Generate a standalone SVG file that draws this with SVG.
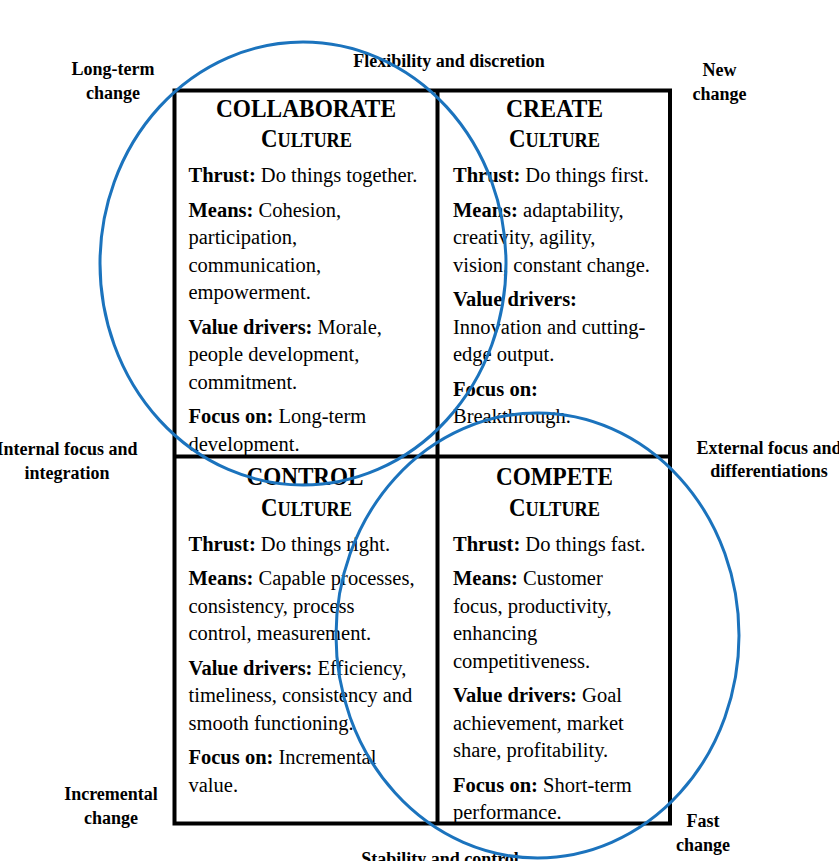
<svg xmlns="http://www.w3.org/2000/svg" width="839" height="861" viewBox="0 0 839 861">
<style>
.lbl{font-family:"Liberation Serif","Times New Roman",serif;font-size:18px;font-weight:bold;fill:#000;text-anchor:middle}
.ttl{font-family:"Liberation Serif","Times New Roman",serif;font-size:25px;font-weight:bold;fill:#000;text-anchor:middle}
.sc{font-size:20px}
.body{font-family:"Liberation Serif","Times New Roman",serif;font-size:20.5px;fill:#000}
.b{font-weight:bold}
.frame{fill:none;stroke:#000;stroke-width:4}
.ring{fill:none;stroke:#1b73bd;stroke-width:3}
</style>
<rect width="839" height="861" fill="#fff"/>
<g id="frame">
<rect class="frame" x="174.5" y="90.5" width="495.5" height="733"/>
<line class="frame" x1="437.5" y1="90.5" x2="437.5" y2="823.5"/>
<line class="frame" x1="174.5" y1="456.5" x2="670" y2="456.5"/>
</g>
<g id="axis-labels">
<text class="lbl" x="113" y="75">Long-term</text>
<text class="lbl" x="113" y="99">change</text>
<text class="lbl" x="449" y="67">Flexibility and discretion</text>
<text class="lbl" x="719.5" y="76">New</text>
<text class="lbl" x="719.5" y="99.5">change</text>
<text class="lbl" x="67" y="455">Internal focus and</text>
<text class="lbl" x="67" y="478.5">integration</text>
<text class="lbl" x="769" y="453.5">External focus and</text>
<text class="lbl" x="769" y="477">differentiations</text>
<text class="lbl" x="111" y="800">Incremental</text>
<text class="lbl" x="111" y="823.5">change</text>
<text class="lbl" x="703" y="827">Fast</text>
<text class="lbl" x="703" y="850.5">change</text>
<text class="lbl" x="440" y="865">Stability and control</text>
</g>
<g id="collaborate">
<text class="ttl" x="306" y="117" textLength="180" lengthAdjust="spacingAndGlyphs">COLLABORATE</text>
<text class="ttl" x="306.5" y="147" textLength="91" lengthAdjust="spacingAndGlyphs">C<tspan class="sc">ULTURE</tspan></text>
<text class="body" x="188.5" y="182"><tspan class="b">Thrust:</tspan> Do things together.</text>
<text class="body" x="188.5" y="216.5"><tspan class="b">Means:</tspan> Cohesion,</text>
<text class="body" x="188.5" y="244">participation,</text>
<text class="body" x="188.5" y="271.5">communication,</text>
<text class="body" x="188.5" y="299">empowerment.</text>
<text class="body" x="188.5" y="333.5"><tspan class="b">Value drivers:</tspan> Morale,</text>
<text class="body" x="188.5" y="361">people development,</text>
<text class="body" x="188.5" y="388.5">commitment.</text>
<text class="body" x="188.5" y="423"><tspan class="b">Focus on:</tspan> Long-term</text>
<text class="body" x="188.5" y="450.5">development.</text>
</g>
<g id="create">
<text class="ttl" x="554.5" y="117" textLength="97" lengthAdjust="spacingAndGlyphs">CREATE</text>
<text class="ttl" x="554.5" y="147" textLength="91" lengthAdjust="spacingAndGlyphs">C<tspan class="sc">ULTURE</tspan></text>
<text class="body" x="453" y="182"><tspan class="b">Thrust:</tspan> Do things first.</text>
<text class="body" x="453" y="216.5"><tspan class="b">Means:</tspan> adaptability,</text>
<text class="body" x="453" y="244">creativity, agility,</text>
<text class="body" x="453" y="271.5">vision, constant change.</text>
<text class="body b" x="453" y="306">Value drivers:</text>
<text class="body" x="453" y="333.5">Innovation and cutting-</text>
<text class="body" x="453" y="361">edge output.</text>
<text class="body b" x="453" y="395.5">Focus on:</text>
<text class="body" x="453" y="423">Breakthrough.</text>
</g>
<g id="control">
<text class="ttl" x="305" y="485" textLength="117" lengthAdjust="spacingAndGlyphs">CONTROL</text>
<text class="ttl" x="306.5" y="516" textLength="91" lengthAdjust="spacingAndGlyphs">C<tspan class="sc">ULTURE</tspan></text>
<text class="body" x="188.5" y="550.5"><tspan class="b">Thrust:</tspan> Do things right.</text>
<text class="body" x="188.5" y="585"><tspan class="b">Means:</tspan> Capable processes,</text>
<text class="body" x="188.5" y="612.5">consistency, process</text>
<text class="body" x="188.5" y="640">control, measurement.</text>
<text class="body" x="188.5" y="674.5"><tspan class="b">Value drivers:</tspan> Efficiency,</text>
<text class="body" x="188.5" y="702">timeliness, consistency and</text>
<text class="body" x="188.5" y="729.5">smooth functioning.</text>
<text class="body" x="188.5" y="764"><tspan class="b">Focus on:</tspan> Incremental</text>
<text class="body" x="188.5" y="791.5">value.</text>
</g>
<g id="compete">
<text class="ttl" x="554.5" y="485" textLength="117" lengthAdjust="spacingAndGlyphs">COMPETE</text>
<text class="ttl" x="554.5" y="516" textLength="91" lengthAdjust="spacingAndGlyphs">C<tspan class="sc">ULTURE</tspan></text>
<text class="body" x="453" y="550.5"><tspan class="b">Thrust:</tspan> Do things fast.</text>
<text class="body" x="453" y="585"><tspan class="b">Means:</tspan> Customer</text>
<text class="body" x="453" y="612.5">focus, productivity,</text>
<text class="body" x="453" y="640">enhancing</text>
<text class="body" x="453" y="667.5">competitiveness.</text>
<text class="body" x="453" y="702"><tspan class="b">Value drivers:</tspan> Goal</text>
<text class="body" x="453" y="729.5">achievement, market</text>
<text class="body" x="453" y="757">share, profitability.</text>
<text class="body" x="453" y="791.5"><tspan class="b">Focus on:</tspan> Short-term</text>
<text class="body" x="453" y="819">performance.</text>
</g>
<g id="connectors">
<ellipse id="ring-long-term" class="ring" cx="303" cy="263.5" rx="203" ry="221.5"/>
<ellipse id="ring-short-term" class="ring" cx="537.5" cy="635.5" rx="201.5" ry="222.5"/>
</g>
</svg>
